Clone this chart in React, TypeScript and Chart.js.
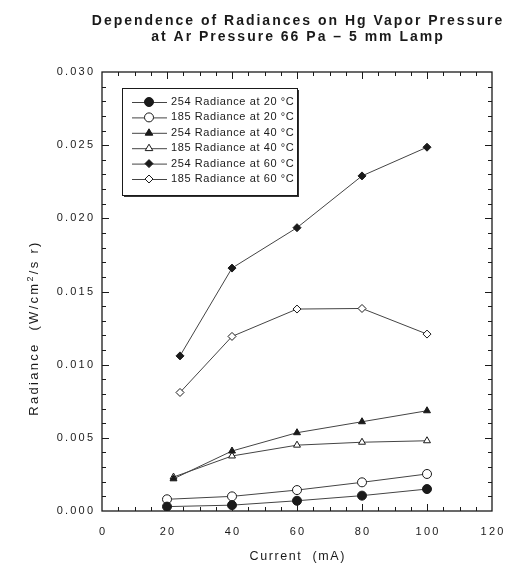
import React, { useEffect, useRef } from "react";
import { Chart, registerables } from "chart.js";

Chart.register(...registerables);

const currents20 = [20, 40, 60, 80, 100];
const currents40 = [22, 40, 60, 80, 100];
const currents60 = [24, 40, 60, 80, 100];
const rad254at20 = [0.0003, 0.0004, 0.0007, 0.00105, 0.0015];
const rad185at20 = [0.0008, 0.001, 0.00143, 0.00196, 0.00253];
const rad254at40 = [0.0022, 0.0041, 0.00535, 0.0061, 0.00685];
const rad185at40 = [0.00232, 0.00376, 0.0045, 0.0047, 0.0048];
const rad254at60 = [0.0106, 0.0166, 0.01936, 0.0229, 0.02486];
const rad185at60 = [0.0081, 0.01193, 0.0138, 0.01384, 0.01209];

const seriesLabels = [
  "254 Radiance at 20 °C",
  "185 Radiance at 20 °C",
  "254 Radiance at 40 °C",
  "185 Radiance at 40 °C",
  "254 Radiance at 60 °C",
  "185 Radiance at 60 °C",
];
const titleLines = [
  "Dependence of Radiances on Hg Vapor Pressure",
  "at Ar Pressure 66 Pa \u2013 5 mm Lamp",
];
const xTitle = "Current  (mA)";
const xTickLabels = [0, 20, 40, 60, 80, 100, 120];

const FONT = "'Liberation Sans', Arial, sans-serif";
const INK = "#1a1a1a";

function pts(xs: number[], ys: number[]) {
  return xs.map((x, i) => ({ x, y: ys[i] }));
}

function drawMarker(ctx: CanvasRenderingContext2D, style: string, filled: boolean, x: number, y: number, r: number) {
  ctx.beginPath();
  if (style === "circle") {
    ctx.arc(x, y, r, 0, Math.PI * 2);
  } else if (style === "triangle") {
    ctx.moveTo(x, y - r);
    ctx.lineTo(x + r * 0.95, y + r * 0.6);
    ctx.lineTo(x - r * 0.95, y + r * 0.6);
    ctx.closePath();
  } else {
    ctx.moveTo(x, y - r);
    ctx.lineTo(x + r, y);
    ctx.lineTo(x, y + r);
    ctx.lineTo(x - r, y);
    ctx.closePath();
  }
  ctx.fillStyle = filled ? INK : "#fff";
  ctx.fill();
  ctx.lineWidth = 1;
  ctx.strokeStyle = INK;
  ctx.stroke();
}

function spacedText(ctx: any, text: string, x: number, y: number, spacing: number, align: "left" | "center" | "right") {
  ctx.letterSpacing = spacing + "px";
  const w = ctx.measureText(text).width - spacing;
  let sx = x;
  if (align === "center") sx = x - w / 2;
  else if (align === "right") sx = x - w;
  ctx.textAlign = "left";
  ctx.fillText(text, sx, y);
  ctx.letterSpacing = "0px";
  return w;
}

const decorPlugin = {
  id: "decor",
  afterDraw(chart: any) {
    const ctx = chart.ctx as any;
    const { left, right, top, bottom } = chart.chartArea;
    const xs = chart.scales.x;
    const ys = chart.scales.y;
    ctx.save();
    // frame
    ctx.strokeStyle = INK;
    ctx.lineWidth = 1.3;
    ctx.strokeRect(left, top, right - left, bottom - top);
    // ticks
    ctx.lineWidth = 1;
    ctx.beginPath();
    xs.ticks.forEach((t: any) => {
      const v = t.value;
      if (v <= 0 || v >= 120) return;
      const px = Math.round(xs.getPixelForValue(v)) + 0.5;
      const len = v % 20 === 0 ? 7 : 4;
      ctx.moveTo(px, bottom);
      ctx.lineTo(px, bottom - len);
      ctx.moveTo(px, top);
      ctx.lineTo(px, top + len);
    });
    ys.ticks.forEach((t: any) => {
      const v = t.value;
      const k = Math.round(v * 1000);
      if (k <= 0 || k >= 30) return;
      const py = Math.round(ys.getPixelForValue(v)) + 0.5;
      const len = k % 5 === 0 ? 7 : 4;
      ctx.moveTo(left, py);
      ctx.lineTo(left + len, py);
      ctx.moveTo(right, py);
      ctx.lineTo(right - len, py);
    });
    ctx.stroke();

    // tick labels
    ctx.fillStyle = INK;
    ctx.font = `11px ${FONT}`;
    ctx.textBaseline = "middle";
    xTickLabels.forEach((v) => {
      spacedText(ctx, String(v), xs.getPixelForValue(v), bottom + 21, 2.2, "center");
    });
    ys.ticks.forEach((t: any) => {
      const k = Math.round(t.value * 1000);
      if (k % 5 !== 0) return;
      spacedText(ctx, (k / 1000).toFixed(3), left - 9, ys.getPixelForValue(t.value), 2.2, "right");
    });

    // titles
    const cx = (left + right) / 2;
    ctx.textBaseline = "alphabetic";
    ctx.font = `bold 14px ${FONT}`;
    spacedText(ctx, titleLines[0], cx, 17, 2, "center");
    spacedText(ctx, titleLines[1], cx, 33, 2, "center");

    ctx.font = `12.5px ${FONT}`;
    spacedText(ctx, xTitle, cx, bottom + 49, 1.6, "center");

    // y title rotated with superscript
    ctx.save();
    ctx.translate(30, 320);
    ctx.rotate(-Math.PI / 2);
    const p1 = "Radiance  (W/cm";
    const p2 = "2";
    const p3 = "/s r)";
    ctx.font = `13px ${FONT}`;
    ctx.letterSpacing = "2.3px";
    const w1 = ctx.measureText(p1).width;
    const w3 = ctx.measureText(p3).width;
    ctx.font = `9px ${FONT}`;
    const w2 = ctx.measureText(p2).width;
    const total = w1 + w2 + w3;
    let sx = -total / 2;
    ctx.textAlign = "left";
    ctx.font = `13px ${FONT}`;
    ctx.fillText(p1, sx, 0);
    sx += w1;
    ctx.font = `9px ${FONT}`;
    ctx.fillText(p2, sx, -5);
    sx += w2;
    ctx.font = `13px ${FONT}`;
    ctx.fillText(p3, sx, 0);
    ctx.letterSpacing = "0px";
    ctx.restore();

    // legend
    const lx = left + 20;
    const ly = top + 16;
    const lw = 175;
    const lh = 107;
    ctx.fillStyle = "#333";
    ctx.fillRect(lx + 2, ly + 2, lw, lh);
    ctx.fillStyle = "#fff";
    ctx.fillRect(lx, ly, lw, lh);
    ctx.strokeStyle = INK;
    ctx.lineWidth = 1;
    ctx.strokeRect(lx + 0.5, ly + 0.5, lw, lh);
    ctx.font = `11px ${FONT}`;
    ctx.textBaseline = "middle";
    chart.data.datasets.forEach((ds: any, i: number) => {
      const y = ly + 14 + i * 15.4;
      ctx.beginPath();
      ctx.strokeStyle = ds.borderColor;
      ctx.lineWidth = 1;
      ctx.moveTo(lx + 10, y + 0.5);
      ctx.lineTo(lx + 45, y + 0.5);
      ctx.stroke();
      drawMarker(ctx, ds.pointStyle === "rectRot" ? "diamond" : ds.pointStyle, ds.pointBackgroundColor !== "#fff", lx + 27, y, ds.pointRadius);
      ctx.fillStyle = INK;
      spacedText(ctx, seriesLabels[i], lx + 49, y, 0.6, "left");
    });
    ctx.restore();
  },
};

function makeDataset(label: string, data: any[], style: string, filled: boolean, r: number) {
  return {
    label,
    data,
    borderColor: "#444",
    borderWidth: 1,
    pointStyle: style,
    pointRadius: r,
    pointBackgroundColor: filled ? INK : "#fff",
    pointBorderColor: INK,
    pointBorderWidth: 1,
    tension: 0,
  };
}

export default function App() {
  const ref = useRef<HTMLCanvasElement>(null);
  useEffect(() => {
    if (!ref.current) return;
    const chart = new Chart(ref.current, {
      type: "line",
      data: {
        datasets: [
          makeDataset(seriesLabels[0], pts(currents20, rad254at20), "circle", true, 4.5),
          makeDataset(seriesLabels[1], pts(currents20, rad185at20), "circle", false, 4.5),
          makeDataset(seriesLabels[2], pts(currents40, rad254at40), "triangle", true, 4),
          makeDataset(seriesLabels[3], pts(currents40, rad185at40), "triangle", false, 4),
          makeDataset(seriesLabels[4], pts(currents60, rad254at60), "rectRot", true, 4),
          makeDataset(seriesLabels[5], pts(currents60, rad185at60), "rectRot", false, 4),
        ],
      },
      options: {
        responsive: false,
        animation: false,
        events: [],
        layout: { padding: { left: 0, top: 64, right: 11, bottom: 0 } },
        plugins: { legend: { display: false }, title: { display: false }, tooltip: { enabled: false } },
        scales: {
          x: {
            type: "linear",
            min: 0,
            max: 120,
            ticks: { display: false, stepSize: 5, autoSkip: false },
            grid: { display: false },
            border: { display: false },
            afterFit: (s: any) => { s.height = 56; },
          },
          y: {
            type: "linear",
            min: 0,
            max: 0.03,
            ticks: { display: false, stepSize: 0.001, autoSkip: false },
            grid: { display: false },
            border: { display: false },
            afterFit: (s: any) => { s.width = 94; },
          },
        },
      },
      plugins: [decorPlugin],
    });
    return () => chart.destroy();
  }, []);
  return (
    <div style={{ width: 495, height: 559 }}>
      <canvas ref={ref} width={495} height={559} style={{ display: "block" }} />
    </div>
  );
}
